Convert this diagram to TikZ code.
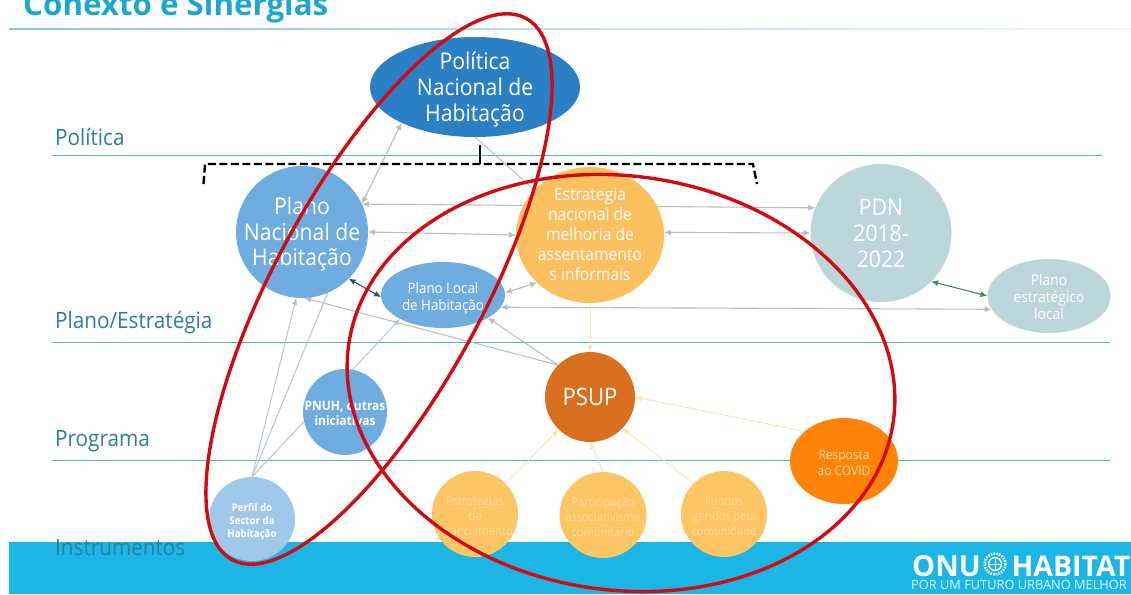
\documentclass[tikz,border=0pt]{standalone}
\usepackage{fontspec}
\setmainfont{Open Sans}[FakeStretch=0.92]
\newfontfamily\widef{Open Sans}
\usetikzlibrary{shapes.geometric,arrows.meta}
\pgfdeclarelayer{back}\pgfdeclarelayer{conn}\pgfsetlayers{back,conn,main}
\definecolor{polblue}{HTML}{2A7FC5}
\definecolor{planblue}{HTML}{6FADE0}
\definecolor{perfblue}{HTML}{A0C8EA}
\definecolor{estyel}{HTML}{FDC05F}
\definecolor{yelnode}{HTML}{FDC665}
\definecolor{yeltext}{HTML}{FDDC9C}
\definecolor{psupor}{HTML}{D9701F}
\definecolor{covor}{HTML}{FF8209}
\definecolor{pdnteal}{HTML}{BCD7D9}
\definecolor{band}{HTML}{1BB5E6}
\definecolor{rule}{HTML}{4FB3C8}
\definecolor{lab}{HTML}{2E7F9E}
\definecolor{titlec}{HTML}{1CA6D0}
\definecolor{greyl}{HTML}{BDBDBD}
\definecolor{bluegrey}{HTML}{B7C6D2}
\definecolor{paleyel}{HTML}{F7E6B8}
\definecolor{darkteal}{HTML}{24566E}
\definecolor{greenl}{HTML}{3F8A5A}
\definecolor{redl}{HTML}{D20A11}
\newcommand\fs[2]{\fontsize{#1}{#2}\selectfont}
\newcommand\tx[2][.3em]{\makebox[0pt]{\smash{\raisebox{\dimexpr-2.5pt-#1\relax}{$\vcenter{\hbox{\begin{tabular}{@{}c@{}}#2\end{tabular}}}$}}}}
\tikzset{
  blob/.style n args={3}{ellipse,fill=#1,draw=none,inner sep=0pt,outer sep=0pt,minimum width=#2,minimum height=#3,text=white},
  side/.style={anchor=base west,text=lab,inner sep=0pt,font=\fs{22.5}{26}},
  hline/.style={draw=rule,line width=0.9pt},
  both/.style={draw=#1,line width=1.1pt,{Latex[length=7pt,width=6pt]}-{Latex[length=7pt,width=6pt]}},
  one/.style={draw=#1,line width=1pt,-{Latex[length=7pt,width=6pt]}},
  plain/.style={draw=#1,line width=1pt},
  ring/.style={draw=redl,line width=3.4pt}
}
\begin{document}
\begin{tikzpicture}[x=1pt,y=-1pt]
\useasboundingbox (0,0) rectangle (1131,594);
\clip (0,0) rectangle (1131,594);
\begin{pgfonlayer}{back}
  \fill[white] (0,0) rectangle (1131,594);
  \fill[band] (9,542) rectangle (1131,594);
  \shade[left color=rule!70,right color=rule!8] (9,28.5) rectangle (1131,30);
  \draw[hline] (52,155) -- (1102,155);
  \draw[hline] (52,342) -- (1110,342);
  \draw[hline] (52,460) -- (1110,460);
\end{pgfonlayer}

\node[anchor=base west,inner sep=0pt,text=titlec,font=\widef\fs{31.3}{34}\bfseries] (title) at (23,16) {Conexto e Sinergias};
\node[side] (lpol) at (55,145) {Política};
\node[side] (lplan) at (55,328) {Plano/Estratégia};
\node[side] (lprog) at (55,446) {Programa};
\node[side] (lins) at (55,555) {Instrumentos};

\node[blob={polblue}{210}{100},font=\fs{23}{26}] (pol) at (475,87) {\tx{Política\\Nacional de\\Habitação}};
\node[blob={planblue}{132}{132},font=\fs{23}{25.5}] (pnac) at (302,232) {\tx{Plano\\Nacional de\\Habitação}};
\node[blob={estyel}{148}{136},font=\fs{17}{20}] (est) at (590,235) {\tx[.17em]{Estrategia\\nacional de\\melhoria de\\assentamento\\s informais}};
\node[blob={pdnteal}{141}{138},font=\fs{23}{26}] (pdn) at (881,233) {\tx{PDN\\2018-\\2022}};
\node[blob={planblue}{124}{66},font=\fs{14.5}{17}] (ploc) at (443,295) {\tx{Plano Local\\de Habitação}};
\node[blob={pdnteal}{123}{74},font=\fs{15}{17}] (pestr) at (1049,296) {\tx{Plano\\estratégico\\local}};
\node[blob={psupor}{90}{90},font=\fs{24}{26}] (psup) at (590,397) {\tx{PSUP}};
\node[blob={planblue}{84}{86},font=\fs{13}{15}\bfseries] (pnuh) at (345,412) {\tx{PNUH, outras\\iniciativas}};
\node[blob={perfblue}{86}{84},font=\fs{10.5}{13}\bfseries] (perf) at (252,519) {\tx{Perfil do\\Sector da\\Habitação}};
\node[blob={yelnode}{86}{86},text=yeltext,font=\fs{12.3}{15}] (fin) at (475,514) {\tx{Estrategias\\de\\financiamento}};
\node[blob={yelnode}{87}{86},text=yeltext,font=\fs{12}{15}] (part) at (603,515) {\tx{Participação\\associativismo\\comunitario}};
\node[blob={yelnode}{86}{86},text=yeltext,font=\fs{12}{15}] (fund) at (724,514) {\tx{Fundos\\geridos pela\\comunidade}};
\node[blob={covor}{108}{86},text=yeltext,font=\fs{13}{16}] (cov) at (844,461) {\tx{Resposta\\ao COVID}};

\begin{pgfonlayer}{conn}
  \draw[both=greyl] (pnac.25) -- (pol.206);
  \draw[plain=greyl] (pol.270) -- (est.141);
  \draw[both=greyl] (pnac.25) -- (pdn.159);
  \draw[both=greyl] (pnac.0) -- (est.180);
  \draw[both=greyl] (est.2) -- (pdn.180);
  \draw[both=darkteal] (pnac.-45) -- (ploc.182);
  \draw[both=greyl] (ploc.2) -- (est.222);
  \draw[both=greyl] (ploc.-12) -- (pestr.193);
  \draw[both=greenl] (pdn.-44) -- (pestr.180);
  \draw[one=paleyel] (est.270) -- (psup.90);
  \draw[one=greyl] (psup.135) -- (pnac.272);
  \draw[one=greyl] (psup.135) -- (ploc.-27);
  \draw[one=bluegrey] (perf.90) -- (pnac.265);
  \draw[plain=bluegrey] (perf.90) -- (pnac.293);
  \draw[plain=bluegrey] (perf.90) -- (pnuh.193);
  \draw[one=bluegrey] (pnuh.80) -- (ploc.209);
  \draw[one=paleyel] (fin.45) -- (psup.226);
  \draw[one=paleyel] (part.90) -- (psup.270);
  \draw[one=paleyel] (fund.135) -- (psup.-44);
  \draw[one=paleyel] (cov.143) -- (psup.0);
\end{pgfonlayer}

% bracket
\draw[black,line width=2.4pt,dash pattern=on 8pt off 3.5pt] (203.5,184) -- (205,164) -- (753,164) -- (757,184);
\draw[black,line width=2.4pt] (480,145) -- (480,164);

% logo
\node[anchor=base west,inner sep=0pt,text=white,font=\widef\fs{29}{32}\bfseries] (onu) at (912,576) {ONU};
\node[anchor=base east,inner sep=0pt,text=white,font=\widef\fs{28.5}{32}\bfseries] (hab) at (1130.5,576) {HABITAT};
\node[anchor=base west,inner sep=0pt,text=white!85!band,font=\widef\fs{12.8}{14}] (sub) at (911,589) {POR UM FUTURO URBANO MELHOR};
\draw[white,line width=1.3pt] (995,564) circle (6.5);
\draw[white,line width=2.4pt,dash pattern=on 1.6pt off 1.2pt] (995,564) circle (10.5);
\draw[white,line width=.9pt] (988.5,564) -- (1001.5,564) (995,557.5) -- (995,570.5);

% red rings
\draw[ring] (379,289) ellipse [x radius=308,y radius=104,rotate=61.5];
\draw[ring] (621,383) ellipse [x radius=275,y radius=207,rotate=-8];
\end{tikzpicture}
\end{document}
